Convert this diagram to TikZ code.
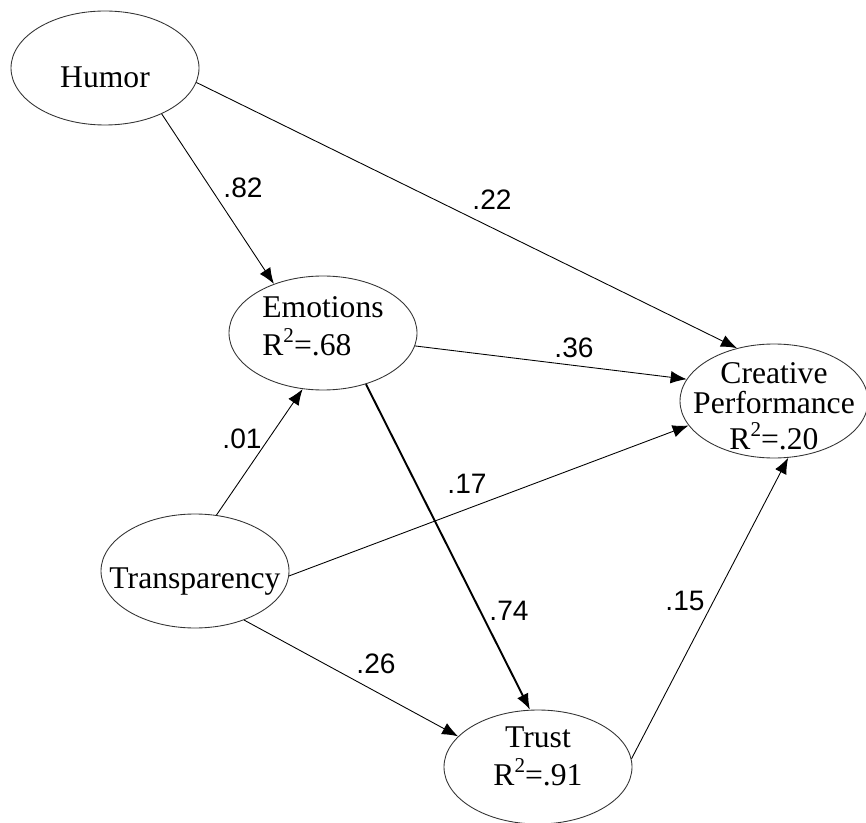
\documentclass[tikz,border=0pt]{standalone}
\usepackage{fontspec}
\setmainfont{Liberation Serif}
\newfontfamily\coeffont{Liberation Sans}
\usetikzlibrary{shapes.geometric,arrows.meta}
\tikzset{>={Latex[length=3.2mm,width=2.5mm]}}
\tikzset{
  latent/.style={ellipse, draw=black!80, line width=0.5pt, minimum width=3.76cm,
    minimum height=2.28cm, inner sep=0pt, text height=0pt, text depth=0pt,
    font=\fontsize{18}{21}\selectfont},
  coef/.style={font=\coeffont\fontsize{16}{18}\selectfont, inner sep=0pt},
  link/.style={->, line width=0.5pt}
}
\newcommand{\sq}{\raisebox{.42em}{\fontsize{12}{12}\selectfont 2}}
\newcommand{\lat}[3][0pt]{\raisebox{#1}{\makebox[0pt]{\begin{tabular}{@{}#2@{}}#3\end{tabular}}}}

\begin{document}
\begin{tikzpicture}
    \useasboundingbox (0, 0) rectangle (17.32, -16.46);
    % latent variables
    \node[latent] (hum) at (2.10, -1.36) {\lat[-11pt]{c}{Humor}};
    \node[latent] (emo) at (6.46, -6.66) {\lat[-2pt]{l}{Emotions\\R\sq=.68}};
    \node[latent] (cre) at (15.48, -8.02) {\lat[-9pt]{c}{Creative\\[-4pt]Performance\\[-1pt]R\sq=.20}};
    \node[latent] (tra) at (3.90, -11.42) {\lat[-10pt]{c}{Transparency}};
    \node[latent] (tru) at (10.76, -15.34) {\lat{c}{Trust\\R\sq=.91}};
    % paths
    \draw[link] (hum.-39.5) -- (emo.135.6);
    \draw[link] (hum.-9) -- (cre.125);
    \draw[link] (emo.-8.5) -- (cre.166);
    \draw[link, line width=1.1pt] (emo.-50) -- (tru.98);
    \draw[link] (tra.69) -- (emo.250);
    \draw[link] (tra.-3) -- (cre.196);
    \draw[link] (tra.-45) -- (tru.159);
    \draw[link] (tru.5.5) -- (cre.-76);
    % coefficients
    \node[coef] (b82) at (4.86, -3.76) {.82};
    \node[coef] (b22) at (9.84, -4.00) {.22};
    \node[coef] (b36) at (11.48, -6.96) {.36};
    \node[coef] (b01) at (4.84, -8.78) {.01};
    \node[coef] (b17) at (9.34, -9.68) {.17};
    \node[coef] (b74) at (10.18, -12.22) {.74};
    \node[coef] (b15) at (13.70, -12.02) {.15};
    \node[coef] (b26) at (7.52, -13.28) {.26};
\end{tikzpicture}
\end{document}
